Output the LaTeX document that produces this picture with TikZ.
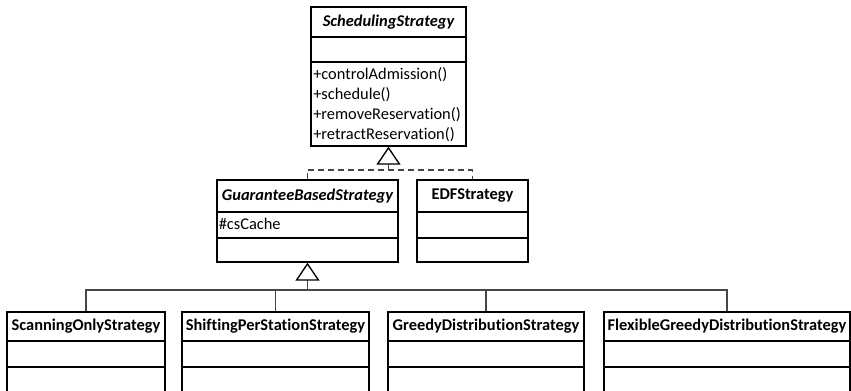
\documentclass[tikz,border=0pt]{standalone}
\usepackage{fontspec}
\setmainfont{Carlito}[Ligatures={NoCommon}]
\usetikzlibrary{arrows.meta,fit}
\tikzset{
  classbox/.style={draw=black, line width=1pt, inner sep=0pt},
  sepline/.style={draw=black, line width=1pt},
  cname/.style={font=\fontsize{12.3}{14}\selectfont\bfseries, inner sep=0pt},
  aname/.style={font=\fontsize{12.3}{14}\selectfont\bfseries\itshape, inner sep=0pt},
  member/.style={font=\fontsize{12.3}{14.85}\selectfont, inner sep=0pt, anchor=west, align=left},
  conn/.style={draw=black!72, line width=0.9pt},
  dconn/.style={conn, dash pattern=on 4.5pt off 3pt},
  gen/.style={-{Triangle[open,length=13.5pt,width=18pt,color=black,line width=1pt]}},
}
\begin{document}
\begin{tikzpicture}[x=0.75pt,y=-0.75pt]
\useasboundingbox (0,0) rectangle (851,391);
\clip (0,0) rectangle (851,391);
\fill[white] (0,0) rectangle (851,391);

% SchedulingStrategy
\node[classbox, fit={(311,7) (466,146)}] (sched) {};
\draw[sepline] (311,37) -- (466,37) (311,62) -- (466,62);
\node[aname] (schedN) at (388.5,22) {SchedulingStrategy};
\node[member] (schedM) at (313,104.5) {+controlAdmission()\\+schedule()\\+removeReservation()\\+retractReservation()};

% GuaranteeBasedStrategy
\node[classbox, fit={(217,180) (398,262)}] (guar) {};
\draw[sepline] (217,212) -- (398,212) (217,238) -- (398,238);
\node[aname] (guarN) at (307.5,196) {GuaranteeBasedStrategy};
\node[member] (guarA) at (218.5,224) {\#csCache};

% EDFStrategy
\node[classbox, fit={(417,180) (528,262)}] (edf) {};
\draw[sepline] (417,212) -- (528,212) (417,238) -- (528,238);
\node[cname] (edfN) at (472.5,196) {EDFStrategy};

% bottom row
\node[classbox, fit={(7,312) (165,420)}] (scan) {};
\draw[sepline] (7,341) -- (165,341) (7,367) -- (165,367);
\node[cname] (scanN) at (86,326.5) {ScanningOnlyStrategy};

\node[classbox, fit={(182,312) (369,420)}] (shift) {};
\draw[sepline] (182,341) -- (369,341) (182,367) -- (369,367);
\node[cname] (shiftN) at (275.5,326.5) {ShiftingPerStationStrategy};

\node[classbox, fit={(388,312) (584,420)}] (greedy) {};
\draw[sepline] (388,341) -- (584,341) (388,367) -- (584,367);
\node[cname] (greedyN) at (486,326.5) {GreedyDistributionStrategy};

\node[classbox, fit={(604,312) (850,420)}] (flex) {};
\draw[sepline] (604,341) -- (850,341) (604,367) -- (850,367);
\node[cname] (flexN) at (727,326.5) {FlexibleGreedyDistributionStrategy};

% realization to SchedulingStrategy
\coordinate (j1) at (388.5,170);
\coordinate (j1l) at (307.5,170);
\coordinate (j1r) at (472.5,170);
\draw[dconn] (guar.north) -- (j1l) -- (j1r) -- (edf.north);
\draw[conn, gen] (j1) -- (sched.south);

% generalization to GuaranteeBasedStrategy
\coordinate (j2) at (307.5,290);
\coordinate (j2l) at (86,290);
\coordinate (j2r) at (727,290);
\draw[conn] (scan.north) -- (j2l) -- (j2r) -- (flex.north);
\draw[conn] (shift.north) -- (275.5,290);
\draw[conn] (greedy.north) -- (486,290);
\draw[conn, gen] (j2) -- (guar.south);
\end{tikzpicture}
\end{document}
